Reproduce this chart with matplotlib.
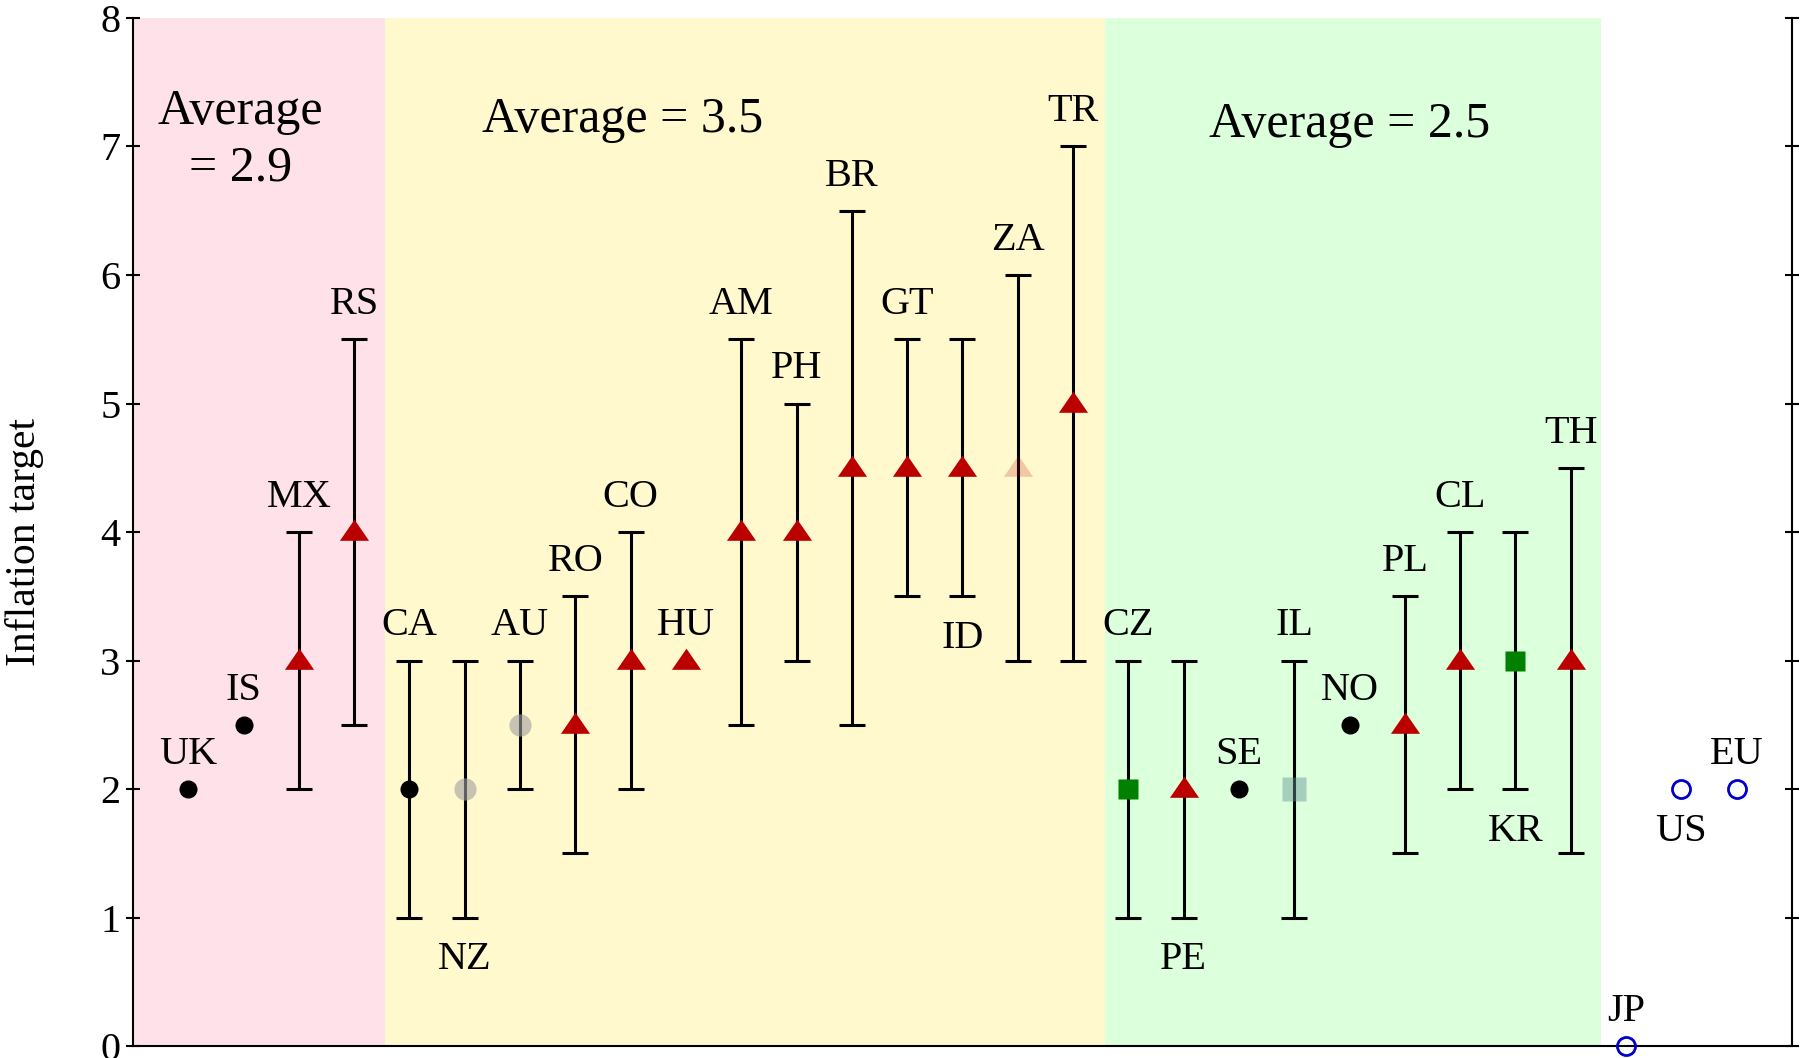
import matplotlib
matplotlib.use("Agg")
import matplotlib.pyplot as plt
import numpy as np

plt.rcParams['font.family'] = ['Liberation Serif', 'DejaVu Serif']

# ---- data ----
countries = ["UK", "IS", "MX", "RS", "CA", "NZ", "AU", "RO", "CO", "HU",
             "AM", "PH", "BR", "GT", "ID", "ZA", "TR", "CZ", "PE", "SE",
             "IL", "NO", "PL", "CL", "KR", "TH", "JP", "US", "EU"]
target = [2, 2.5, 3, 4, 2, 2, 2.5, 2.5, 3, 3,
          4, 4, 4.5, 4.5, 4.5, 4.5, 5, 2, 2, 2,
          2, 2.5, 2.5, 3, 3, 3, 0, 2, 2]
low = [None, None, 2, 2.5, 1, 1, 2, 1.5, 2, None,
       2.5, 3, 2.5, 3.5, 3.5, 3, 3, 1, 1, None,
       1, None, 1.5, 2, 2, 1.5, None, None, None]
high = [None, None, 4, 5.5, 3, 3, 3, 3.5, 4, None,
        5.5, 5, 6.5, 5.5, 5.5, 6, 7, 3, 3, None,
        3, None, 3.5, 4, 4, 4.5, None, None, None]
# marker kind
kind = ["dot", "dot", "tri", "tri", "dot", "dotfade", "dotfade", "tri", "tri", "tri",
        "tri", "tri", "tri", "tri", "tri", "trifade", "tri", "sq", "tri", "dot",
        "sqfade", "dot", "tri", "tri", "sq", "tri", "open", "open", "open"]
label_side = ["up", "up", "up", "up", "up", "down", "up", "up", "up", "up",
              "up", "up", "up", "up", "down", "up", "up", "up", "down", "up",
              "up", "up", "up", "up", "down", "up", "up", "down", "up"]

groups = ["Average\n= 2.9", "Average = 3.5", "Average = 2.5"]
group_bounds = [(0, 4.55), (4.55, 17.57), (17.57, 26.55)]
group_colors = ["#FFE1EA", "#FFF9CD", "#DCFFDC"]
group_text_pos = [(1.95, 7.05), (8.85, 7.21), (22.0, 7.17)]

# ---- figure ----
fig = plt.figure(figsize=(18.04, 10.58), dpi=100)
ax = fig.add_axes([0.0737, 0.0113, 0.9196, 0.9717])
ax.set_xlim(0, 30)
ax.set_ylim(0, 8)

for (a, b), c in zip(group_bounds, group_colors):
    ax.axvspan(a, b, color=c, lw=0, zorder=0)
for t, (tx, ty) in zip(groups, group_text_pos):
    ax.text(tx, ty, t, fontsize=36, ha="center", va="center", zorder=5,
            linespacing=1.3, multialignment="center")

x = np.arange(1, len(countries) + 1)
tri_verts = [(-1, -0.57), (1, -0.57), (0, 0.88), (-1, -0.57)]

styles = {
    "dot": dict(marker="o", ms=13, mfc="black", mec="none", alpha=1),
    "dotfade": dict(marker="o", ms=16, mfc="#a0a0a0", mec="none", alpha=0.6),
    "tri": dict(marker=tri_verts, ms=21, mfc="#BB0000", mec="none", alpha=1),
    "trifade": dict(marker=tri_verts, ms=21, mfc="#BE0000", mec="none", alpha=0.2),
    "sq": dict(marker="s", ms=14.5, mfc="#008000", mec="none", alpha=1),
    "sqfade": dict(marker="s", ms=17, mfc="#649696", mec="none", alpha=0.45),
    "open": dict(marker="o", ms=13, mfc="none", mec="#0000C8", mew=2.0, alpha=1),
}

for xi, c, t, lo, hi, k, side in zip(x, countries, target, low, high, kind, label_side):
    if lo is not None:
        ax.errorbar([xi], [t], yerr=[[t - lo], [hi - t]], fmt="none",
                    ecolor="black", elinewidth=2.2, capsize=9.5, capthick=2.2,
                    zorder=2)
    st = styles[k]
    ax.plot([xi], [t], linestyle="none", zorder=3, clip_on=False, **st)
    if side == "up":
        ly = (hi if hi is not None else t) + 0.27
    else:
        ly = (lo if lo is not None else t) - 0.33
    ax.text(xi, ly, c, fontsize=29, ha="center", va="center", zorder=5)

# axes styling
ax.spines["top"].set_visible(False)
for s in ["left", "right", "bottom"]:
    ax.spines[s].set_linewidth(1.5)
ax.set_xticks([])
ax.set_yticks(range(0, 9))
ax.tick_params(axis="y", which="both", direction="inout", length=10, width=1.5,
               labelsize=29, pad=4, left=True, right=True, labelright=False)
fig.text(25 / 1804, 0.488, "Inflation target", rotation=90, fontsize=30,
         ha="center", va="center")

fig.savefig("out.png", dpi=100)
